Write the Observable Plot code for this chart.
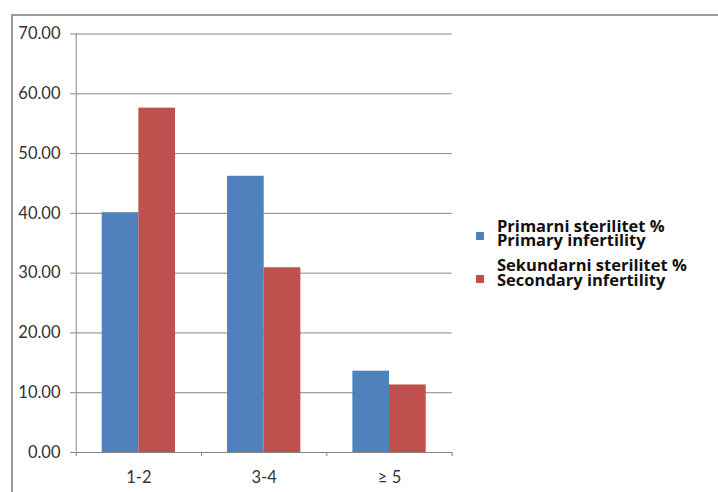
<!DOCTYPE html>
<html>
<head>
<meta charset="utf-8">
<script src="https://cdn.jsdelivr.net/npm/d3@7"></script>
<script src="https://cdn.jsdelivr.net/npm/@observablehq/plot@0.6"></script>
<style>
  html, body { margin: 0; padding: 0; background: #fff; }
  #wrap { position: relative; width: 718px; height: 492px; overflow: hidden; }
  #border { position: absolute; left: 11px; top: 14px; width: 800px; height: 600px;
            border-left: 2px solid #9a9a9a; border-top: 2px solid #9a9a9a; }
  #chart { position: absolute; left: 0; top: 0; }
  .legend { position: absolute; left: 476px; font-family: "Open Sans", Lato, sans-serif;
            font-weight: bold; font-size: 16.5px; line-height: 14.5px; color: #111; }
  .legend .sw { position: absolute; left: 0; width: 8px; height: 8px; }
  .legend .lbl { position: absolute; left: 21px; top: 0; white-space: nowrap; }
</style>
</head>
<body>
<div id="wrap">
  <div id="border"></div>
  <div id="chart"></div>
</div>
<script>
// Number of children (categories on the x axis)
const categories = ["1-2", "3-4", "≥ 5"];
// Share of women per group, in percent
const primary = [40.1, 46.2, 13.6];
const secondary = [57.6, 30.9, 11.3];
const seriesKeys = ["primary", "secondary"];
const seriesLabels = [
  ["Primarni sterilitet %", "Primary infertility"],
  ["Sekundarni sterilitet %", "Secondary infertility"]
];
const seriesColors = ["#4F81BD", "#C0504D"];
const yTicks = [0, 10, 20, 30, 40, 50, 60, 70];

const rows = categories.flatMap((c, i) => [
  {category: c, series: seriesKeys[0], value: primary[i]},
  {category: c, series: seriesKeys[1], value: secondary[i]}
]);

const W = 718, H = 492;
const margin = {left: 75.7, right: 266.3, top: 33.5, bottom: 40};
const padInner = 0.415, padOuter = 0.2075;
const plotW = W - margin.left - margin.right;
const step = plotW / (categories.length - padInner + 2 * padOuter);
const bandW = step * (1 - padInner);
const axisColor = "#868686";
const textColor = "#333333";

const chart = Plot.plot({
  width: W,
  height: H,
  marginLeft: margin.left,
  marginRight: margin.right,
  marginTop: margin.top,
  marginBottom: margin.bottom,
  style: {fontFamily: "Lato, 'Open Sans', sans-serif", fontSize: "16.5px", background: "transparent"},
  x: {domain: categories, paddingInner: padInner, paddingOuter: padOuter, round: false, axis: null},
  y: {domain: [0, 70], axis: null},
  marks: [
    Plot.gridY(yTicks, {stroke: axisColor, strokeOpacity: 1}),
    Plot.barY(rows.filter(d => d.series === seriesKeys[0]), {
      x: "category", y: "value", fill: seriesColors[0], insetRight: bandW / 2
    }),
    Plot.barY(rows.filter(d => d.series === seriesKeys[1]), {
      x: "category", y: "value", fill: seriesColors[1], insetLeft: bandW / 2
    }),
    Plot.ruleY([0], {stroke: axisColor}),
    Plot.ruleX([categories[0]], {y1: 0, y2: 70, dx: -step / 2, stroke: axisColor}),
    Plot.axisY({
      ticks: yTicks, tickFormat: d => d.toFixed(2), tickSize: 5.7, tickPadding: 10,
      stroke: axisColor, strokeOpacity: 1, fill: textColor, label: null
    }),
    // tick marks sit between categories
    Plot.axisX({tickSize: 4, tickFormat: () => "", dx: -step / 2, stroke: axisColor, strokeOpacity: 1, label: null}),
    Plot.axisX({ticks: [categories[categories.length - 1]], tickSize: 4, tickFormat: () => "", dx: step / 2,
      stroke: axisColor, strokeOpacity: 1, label: null}),
    Plot.axisX({tickSize: 0, tickPadding: 18.5, fill: textColor, label: null})
  ]
});
document.getElementById("chart").append(chart);

// Legend: one swatch and a two-line label per series
const wrap = document.getElementById("wrap");
const legendTops = [218.75, 258.25];
const swatchOffsets = [13.25, 16.75];
seriesLabels.forEach((lines, i) => {
  const g = document.createElement("div");
  g.className = "legend";
  g.style.top = legendTops[i] + "px";
  const sw = document.createElement("div");
  sw.className = "sw";
  sw.style.background = seriesColors[i];
  sw.style.top = swatchOffsets[i] + "px";
  g.append(sw);
  const l = document.createElement("div");
  l.className = "lbl";
  lines.forEach((t, j) => {
    if (j > 0) l.append(document.createElement("br"));
    l.append(document.createTextNode(t));
  });
  g.append(l);
  wrap.append(g);
});
</script>
</body>
</html>
